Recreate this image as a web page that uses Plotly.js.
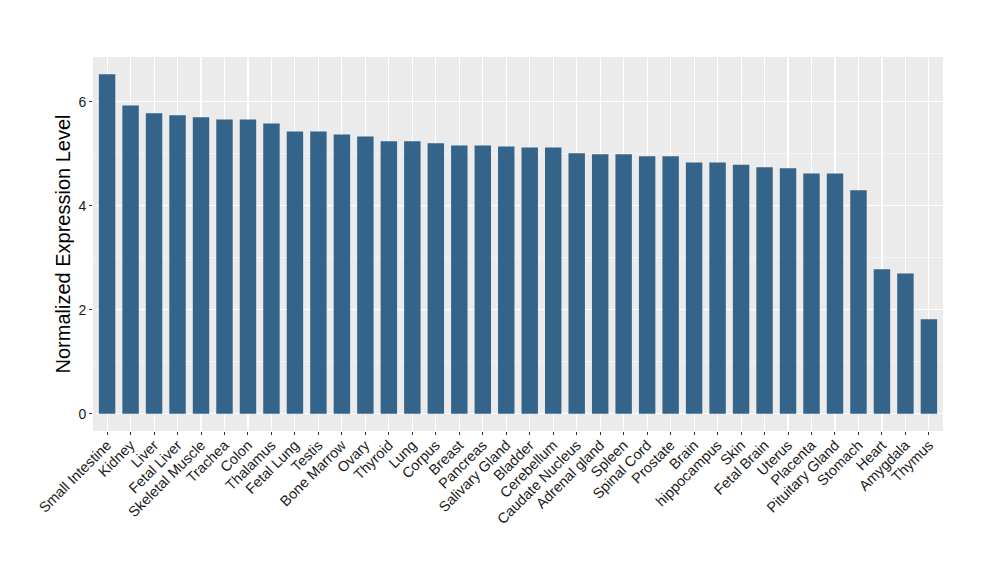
<!DOCTYPE html>
<html>
<head>
<meta charset="utf-8">
<script src="https://cdn.plot.ly/plotly-3.0.1.min.js"></script>
<style>html,body{margin:0;padding:0;background:#fff;}#chart{width:1000px;height:580px;}</style>
</head>
<body>
<div id="chart"></div>
<script>
const tissues = ["Small Intestine","Kidney","Liver","Fetal Liver","Skeletal Muscle","Trachea","Colon","Thalamus","Fetal Lung","Testis","Bone Marrow","Ovary","Thyroid","Lung","Corpus","Breast","Pancreas","Salivary Gland","Bladder","Cerebellum","Caudate Nucleus","Adrenal gland","Spleen","Spinal Cord","Prostate","Brain","hippocampus","Skin","Fetal Brain","Uterus","Placenta","Pituitary Gland","Stomach","Heart","Amygdala","Thymus"];
const expression = [6.53,5.93,5.78,5.74,5.70,5.66,5.66,5.58,5.43,5.43,5.37,5.33,5.24,5.24,5.20,5.16,5.16,5.14,5.12,5.12,5.01,4.99,4.99,4.95,4.95,4.83,4.83,4.79,4.74,4.72,4.62,4.62,4.30,2.78,2.70,1.82];
const yTicks = [0,2,4,6];

const trace = {
  type: 'bar',
  x: tissues,
  y: expression,
  marker: {color: '#35648A', line: {width: 0}},
  hoverinfo: 'x+y'
};

const layout = {
  width: 1000, height: 580,
  margin: {l: 93, r: 57, t: 57, b: 149},
  paper_bgcolor: '#ffffff',
  plot_bgcolor: '#EBEBEB',
  bargap: 0.3,
  showlegend: false,
  font: {family: 'Liberation Sans, Arial, sans-serif', color: '#000'},
  xaxis: {
    type: 'category',
    range: [-0.6, tissues.length - 0.4],
    tickangle: -45,
    tickfont: {size: 14.5, color: '#1a1a1a'},
    ticklabelstandoff: -4,
    showgrid: true, gridcolor: '#ffffff', gridwidth: 1.1,
    ticks: 'outside', ticklen: 3, tickcolor: '#333333', tickwidth: 1,
    zeroline: false, showline: false, automargin: false
  },
  yaxis: {
    range: [-0.33, 6.86],
    tickvals: yTicks,
    ticktext: yTicks.map(String),
    tickfont: {size: 14, color: '#1a1a1a'},
    showgrid: true, gridcolor: '#ffffff', gridwidth: 1.1,
    minor: {tickvals: [1,3,5], showgrid: true, gridcolor: '#ffffff', gridwidth: 0.5, ticks: ''},
    ticks: 'outside', ticklen: 3, tickcolor: '#333333', tickwidth: 1,
    zeroline: false, showline: false, automargin: false,
    title: {text: 'Normalized Expression Level', font: {size: 20, color: '#000'}, standoff: 2}
  }
};

Plotly.newPlot('chart', [trace], layout, {displayModeBar: false, staticPlot: true});
</script>
</body>
</html>
